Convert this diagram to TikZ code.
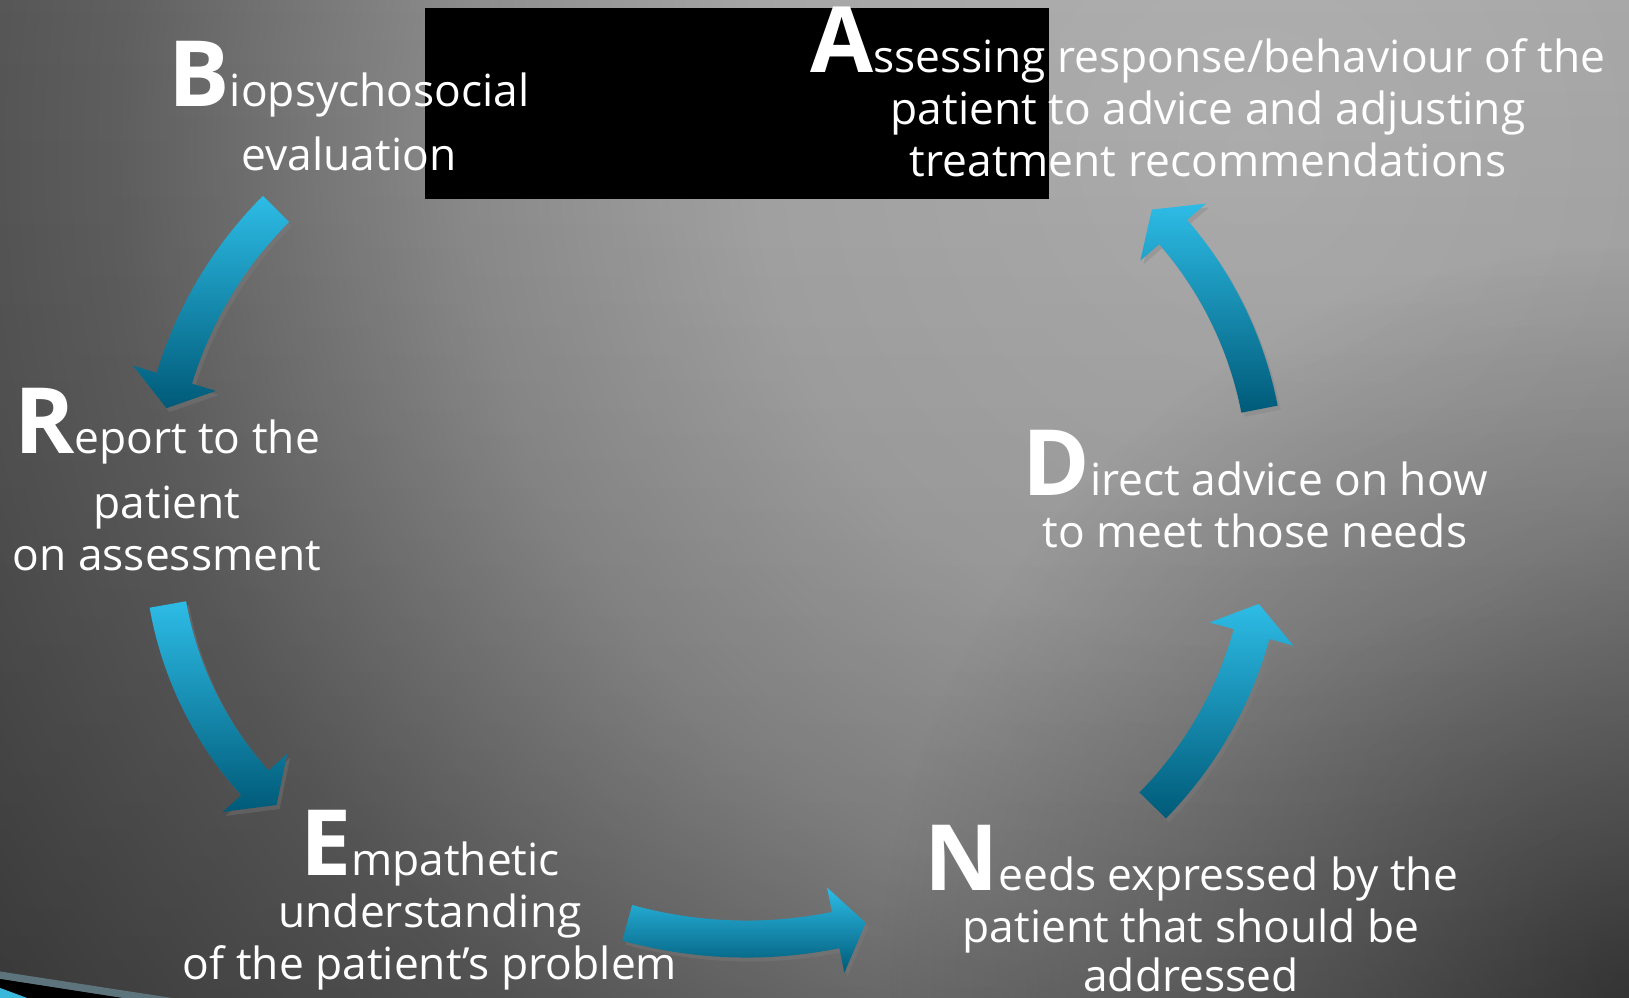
\documentclass[tikz,border=0pt]{standalone}
\usepackage{fontspec}
\setmainfont{Open Sans}
\usetikzlibrary{calc,shadows,fadings}
\definecolor{bgA}{HTML}{B0B0B0}
\definecolor{bgB}{HTML}{A6A6A6}
\definecolor{bgC}{HTML}{8E8E8E}
\definecolor{bgD}{HTML}{606060}
\definecolor{bgE}{HTML}{404040}
\definecolor{bgF}{HTML}{2E2E2E}
\definecolor{arrowtop}{HTML}{2DBCE6}
\definecolor{arrowbot}{HTML}{005A78}
\definecolor{stripe}{HTML}{5E747C}
\definecolor{stripeblue}{HTML}{3AB8DC}
\pgfdeclareradialshading{bgglow}{\pgfpoint{0bp}{0bp}}{color(0bp)=(bgA); color(7.7bp)=(bgB); color(12.2bp)=(bgC); color(17.7bp)=(bgD); color(24.3bp)=(bgE); color(30.9bp)=(bgF); color(50bp)=(bgF)}
\tikzfading[name=vignette, inner color=transparent!0, outer color=transparent!100]
\tikzset{
  steptext/.style={text=white, align=center, font=\fontsize{12.6}{14.8}\selectfont,
                   inner sep=0pt, anchor=base},
  arrowfill/.style={top color=arrowtop, bottom color=arrowbot,
                    drop shadow={shadow xshift=0.3mm, shadow yshift=-0.4mm, opacity=0.35}}
}
% big bold first letter, kept out of the line height
\newcommand{\bigletter}[1]{\smash{\fontsize{26}{26}\selectfont\bfseries #1}}
% curved block arrow on a circle: centre, radius, start angle, end angle
\newcommand{\ringarrow}[4]{%
  \pgfmathsetmacro{\ra}{#2+18.5}\pgfmathsetmacro{\rb}{#2-18.5}%
  \pgfmathsetmacro{\rc}{#2+43.5}\pgfmathsetmacro{\rd}{#2-43.5}%
  \pgfmathsetmacro{\tipa}{#4+deg(31/#2)}%
  \shade[arrowfill] ($(#1)+(#3:\ra)$) arc[start angle=#3, end angle=#4, radius=\ra]
    -- ($(#1)+(#4:\rc)$) -- ($(#1)+(\tipa:#2)$) -- ($(#1)+(#4:\rd)$) -- ($(#1)+(#4:\rb)$)
    arc[start angle=#4, end angle=#3, radius=\rb] -- cycle;
}
\begin{document}
\begin{tikzpicture}[x=0.01cm, y=0.01cm]
  \useasboundingbox (0,0) rectangle (1629,998);
  % background
  \begin{scope}
    \clip (0,0) rectangle (1629,998);
    \shade[shading=bgglow] (1250,848) circle (1600);
    \fill[black, opacity=0.15, path fading=north] (0,0) rectangle (1629,998);
    \fill[black, opacity=0.5, path fading=vignette] (1629,0) circle (750);
  \end{scope}
  \fill[stripe] (0,26.5) -- (172,0) -- (122,0) -- (0,19) -- cycle;
  \fill[black] (0,19) -- (122,0) -- (27,0) -- (0,10) -- cycle;
  \fill[stripeblue] (0,10) -- (27,0) -- (0,0) -- cycle;
  \fill[black] (425,799) rectangle (1049,990);

  % arcs of the cycle
  \coordinate (c1) at (564.5,500.5);
  \coordinate (c2) at (522.4,456);
  \coordinate (c3) at (746.6,505.7);
  \coordinate (c4) at (870.8,469.5);
  \coordinate (c5) at (885.9,516.2);
  \ringarrow{c1}{408}{135}{163}
  \ringarrow{c2}{360}{190}{222}
  \ringarrow{c3}{446.8}{254.5}{281.5}
  \ringarrow{c4}{395.2}{315.5}{344.5}
  \ringarrow{c5}{380.6}{11}{41}

  % texts, placed by the baseline of their last line
  \node[steptext] (bio) at (349,827) {\bigletter{B}iopsychosocial\\[3.4pt]evaluation};
  \node[steptext] (report) at (167,427) {\bigletter{R}eport to the\\[3.7pt]patient\\on assessment};
  \node[steptext] (empath) at (430,18) {\bigletter{E}mpathetic\\understanding\\of the patient’s problem};
  \node[steptext] (needs) at (1191,6) {\bigletter{N}eeds expressed by the\\patient that should be\\[-0.8pt]addressed};
  \node[steptext] (direct) at (1255,450) {\bigletter{D}irect advice on how\\to meet those needs};
  \node[steptext] (assess) at (1208,821) {\bigletter{A}ssessing response/behaviour of the\\patient to advice and adjusting\\treatment recommendations};
\end{tikzpicture}
\end{document}
